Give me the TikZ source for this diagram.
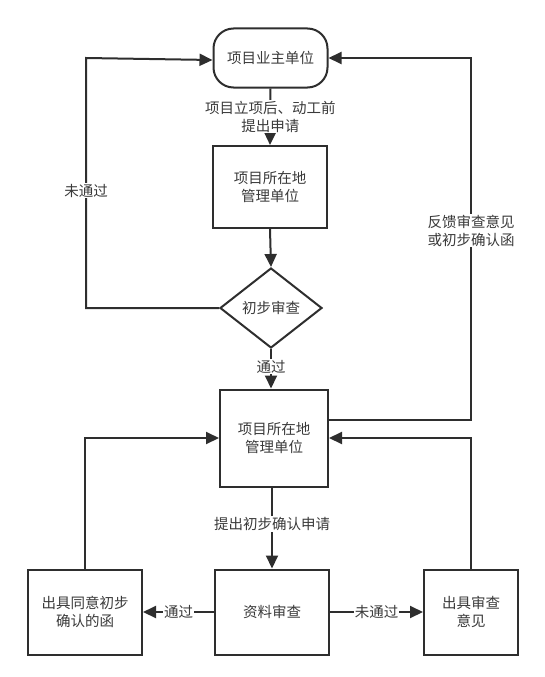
\documentclass[tikz,border=0pt]{standalone}
\usepackage{fontspec}
\newfontfamily\cjk{Noto Sans CJK SC}
\usetikzlibrary{arrows.meta,shapes.geometric}
\definecolor{ln}{HTML}{2E2E2E}
\definecolor{tx}{HTML}{3A3A3A}
\begin{document}
\begin{tikzpicture}[x=1pt,y=-1pt,
  font=\cjk\fontsize{14.5}{18}\selectfont,
  box/.style={draw=ln, line width=2pt, text=tx, align=center, inner sep=0pt, fill=white},
  stadium/.style={box, rounded corners=20pt},
  lbl/.style={fill=white, text=tx, align=center, inner sep=1pt},
  conn/.style={draw=ln, line width=2pt},
  arr/.style={conn, -{Triangle[length=13pt,width=12pt]}}]
\useasboundingbox (0,0) rectangle (544,677);
% nodes
\node[stadium, minimum width=114pt, minimum height=59pt] (top) at (270.5,58) {项目业主单位};
\node[box, minimum width=114pt, minimum height=82pt] (b2) at (270,187) {项目所在地\\管理单位};
\node[box, diamond, minimum width=102pt, minimum height=80pt, inner sep=0pt] (d) at (271,308) {初步审查};
\node[box, minimum width=108pt, minimum height=97pt] (b3) at (274,438) {项目所在地\\管理单位};
\node[box, minimum width=114pt, minimum height=85pt] (bl) at (85,612) {出具同意初步\\确认的函};
\node[box, minimum width=114pt, minimum height=85pt] (bm) at (272,612) {资料审查};
\node[box, minimum width=94pt, minimum height=85pt] (br) at (471,612) {出具审查\\意见};
% helper coordinates
\coordinate (lx) at (86,0);
\coordinate (rx) at (471,0);
\coordinate (fbs) at ([yshift=18pt]b3.east);
% connectors
\draw[arr] (top.south) -- node[lbl] {项目立项后、动工前\\提出申请} (b2.north);
\draw[arr] (b2.south) -- (d.north);
\draw[arr] (d.south) -- node[lbl, pos=0.45] {通过} (d.south |- b3.north);
\draw[arr] (d.west) -- (lx |- d.west) -- node[lbl, pos=0.47] {未通过} (lx |- top.west) -- ([yshift=-2pt]top.west);
\draw[arr] (fbs) -- (rx |- fbs) -- node[lbl, pos=0.523] {反馈审查意见\\或初步确认函} (rx |- top.east) -- (top.east);
\draw[arr] (b3.south -| bm.north) -- node[lbl, pos=0.45] {提出初步确认申请} (bm.north);
\draw[arr] (bm.west) -- node[lbl] {通过} (bl.east);
\draw[arr] (bm.east) -- node[lbl] {未通过} (br.west);
\draw[arr] (bl.north) -- (bl.north |- b3.west) -- (b3.west);
\draw[arr] (br.north) -- (br.north |- b3.east) -- (b3.east);
\end{tikzpicture}
\end{document}
